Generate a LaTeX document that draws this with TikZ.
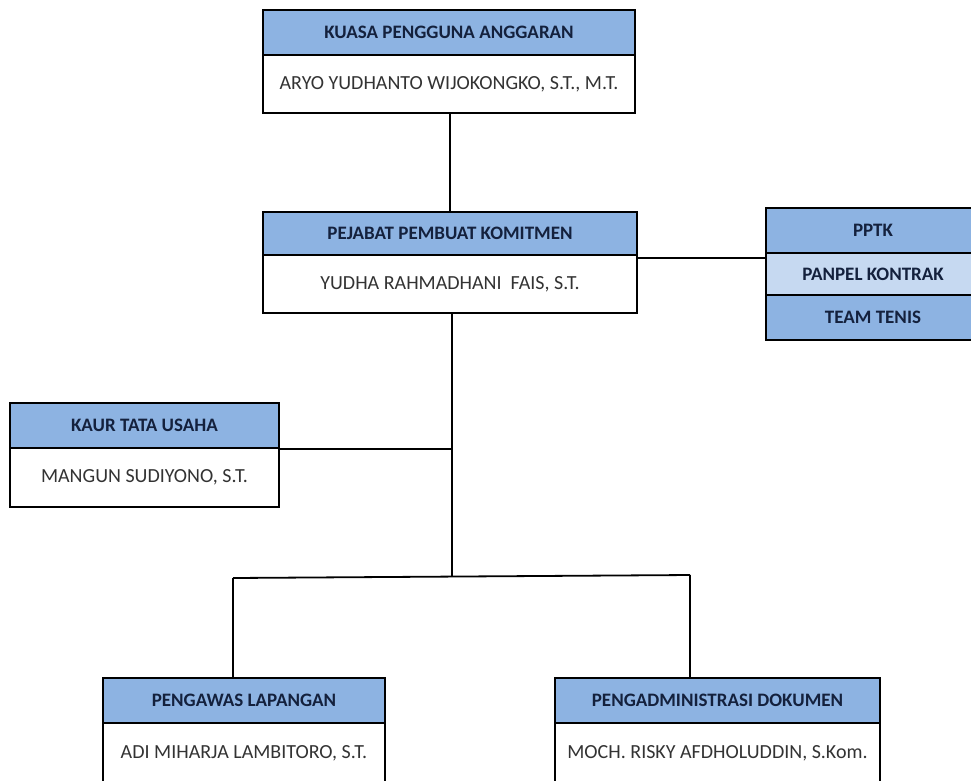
\documentclass[tikz,border=0pt]{standalone}
\usepackage{fontspec}
\setmainfont{Carlito}
\definecolor{hdrblue}{HTML}{8DB3E2}
\definecolor{hdrlight}{HTML}{C6D9F1}
\definecolor{hdrtext}{HTML}{14213D}
\definecolor{nametext}{HTML}{333333}
\begin{document}
\begin{tikzpicture}[x=1pt,y=-1pt,
  hdr/.style={draw=black, line width=2pt, fill=hdrblue, rectangle, inner sep=0pt,
    font=\fontsize{19}{21}\selectfont\bfseries, text=hdrtext},
  nm/.style={draw=black, line width=2pt, fill=white, rectangle, inner sep=0pt,
    font=\fontsize{20}{22}\selectfont, text=nametext},
  conn/.style={draw=black, line width=1.8pt}]
\useasboundingbox (0,0) rectangle (971,780);
\clip (0,0) rectangle (971,780);
% Kuasa Pengguna Anggaran
\node[hdr, minimum width=372pt, minimum height=45pt] (kpah) at (449,32.5) {KUASA PENGGUNA ANGGARAN};
\node[nm, minimum width=372pt, minimum height=58pt] (kpan) at (449,84) {ARYO YUDHANTO WIJOKONGKO, S.T., M.T.};
% Pejabat Pembuat Komitmen
\node[hdr, minimum width=374pt, minimum height=43pt] (ppkh) at (450,233.5) {PEJABAT PEMBUAT KOMITMEN};
\node[nm, minimum width=374pt, minimum height=58pt] (ppkn) at (450,284) {YUDHA RAHMADHANI\ \ FAIS, S.T.};
% PPTK stack
\node[hdr, minimum width=214pt, minimum height=45pt] (pptk) at (873,230.5) {PPTK};
\node[hdr, fill=hdrlight, minimum width=214pt, minimum height=42pt] (panpel) at (873,274) {PANPEL KONTRAK};
\node[hdr, minimum width=214pt, minimum height=45pt] (tenis) at (873,317.5) {TEAM TENIS};
% Kaur Tata Usaha
\node[hdr, minimum width=269pt, minimum height=45pt] (kaurh) at (144.5,425.5) {KAUR TATA USAHA};
\node[nm, minimum width=269pt, minimum height=59pt] (kaurn) at (144.5,477.5) {MANGUN SUDIYONO, S.T.};
% Pengawas Lapangan
\node[hdr, minimum width=282pt, minimum height=45pt] (plh) at (244,700.5) {PENGAWAS LAPANGAN};
\node[nm, minimum width=282pt, minimum height=60pt] (pln) at (244,753) {ADI MIHARJA LAMBITORO, S.T.};
% Pengadministrasi Dokumen
\node[hdr, minimum width=325pt, minimum height=45pt] (pdh) at (717.5,700.5) {PENGADMINISTRASI DOKUMEN};
\node[nm, minimum width=325pt, minimum height=60pt] (pdn) at (717.5,753) {MOCH. RISKY AFDHOLUDDIN, S.Kom.};
% connectors
\coordinate (trunk) at (452,576);
\coordinate (lj) at (233,578);
\coordinate (rj) at (690,575);
\draw[conn] (450,113) -- (450,212);
\draw[conn] ([yshift=-2pt]ppkh.south east) -- ([yshift=-2pt]ppkh.south east -| pptk.west);
\draw[conn] (452,313) -- (trunk);
\draw[conn] (kaurh.south east) -- (kaurh.south east -| trunk);
\draw[conn] (lj) -- (rj);
\draw[conn] (lj) -- (lj |- plh.north);
\draw[conn] (rj) -- (rj |- pdh.north);
\end{tikzpicture}
\end{document}
